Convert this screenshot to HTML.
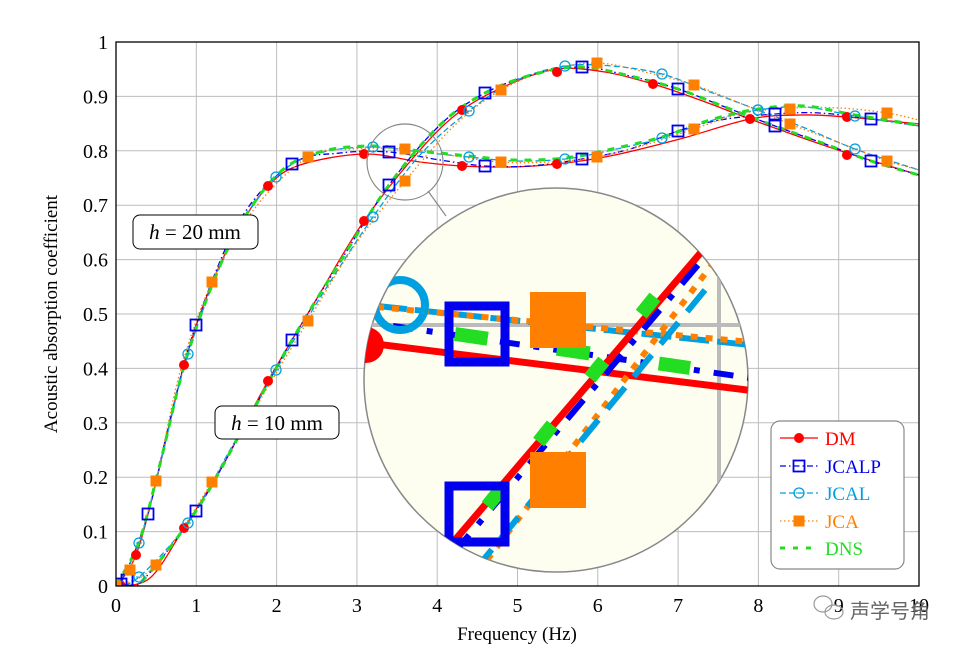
<!DOCTYPE html>
<html><head><meta charset="utf-8"><style>
html,body{margin:0;padding:0;background:#fff;}
svg{display:block;font-family:"Liberation Serif",serif;}
</style></head><body>
<svg id="s" width="975" height="650" viewBox="0 0 975 650" xmlns="http://www.w3.org/2000/svg">
<defs>
<clipPath id="pc"><rect x="116" y="42" width="803" height="544"/></clipPath>
<clipPath id="mc"><circle cx="556" cy="380" r="192"/></clipPath>
</defs>
<g id="grid" stroke="#bdbdbd" stroke-width="1"></g>
<g id="curves" clip-path="url(#pc)"></g>
<circle cx="405" cy="162" r="38" fill="none" stroke="#888" stroke-width="1.2"/>
<line x1="428" y1="191" x2="446" y2="216" stroke="#888" stroke-width="1.2"/>
<circle cx="556" cy="380" r="192" fill="#fdfdf0" stroke="#888" stroke-width="1.5"/>
<g clip-path="url(#mc)">
 <line x1="360" y1="325" x2="750" y2="325" stroke="#bbb" stroke-width="4"/>
 <line x1="719" y1="268" x2="719" y2="490" stroke="#bbb" stroke-width="4"/>
 <line x1="377" y1="306" x2="750" y2="345" stroke="#00a0e0" stroke-width="6" stroke-dasharray="30 8"/>
 <line x1="377" y1="307" x2="750" y2="342" stroke="#ff8000" stroke-width="6" stroke-dasharray="7 8"/>
 <line x1="393" y1="326" x2="750" y2="378" stroke="#0000ee" stroke-width="6" stroke-dasharray="20 14 6 14"/>
 <line x1="455" y1="334" x2="690" y2="368" stroke="#22dd22" stroke-width="14" stroke-dasharray="33 70"/>
 <line x1="360" y1="342" x2="755" y2="391" stroke="#ff0000" stroke-width="7"/>
 <circle cx="366" cy="345" r="18" fill="#ff0000"/>
 <line x1="710" y1="245" x2="470" y2="560" stroke="#ff8000" stroke-width="6" stroke-dasharray="7 9" transform="translate(14,4)"/>
 <line x1="705" y1="290" x2="475" y2="570" stroke="#00a0e0" stroke-width="6" stroke-dasharray="28 14"/>
 <line x1="703" y1="250" x2="455" y2="540" stroke="#ff0000" stroke-width="7"/>
 <line x1="695" y1="262" x2="455" y2="545" stroke="#0000ee" stroke-width="6" stroke-dasharray="25 14 6 14" transform="translate(3,3)"/>
 <line x1="655" y1="297" x2="460" y2="540" stroke="#22dd22" stroke-width="14" stroke-dasharray="22 60"/>
 <circle cx="400" cy="305" r="25" fill="none" stroke="#00a0e0" stroke-width="8"/>
 <rect x="449" y="306" width="56" height="56" fill="none" stroke="#0000ee" stroke-width="9"/>
 <rect x="449" y="486" width="56" height="56" fill="none" stroke="#0000ee" stroke-width="9"/>
 <rect x="530" y="292" width="56" height="56" fill="#ff8000"/>
 <rect x="530" y="452" width="56" height="56" fill="#ff8000"/>
</g>
<rect x="116" y="42" width="803" height="544" fill="none" stroke="#000" stroke-width="1.3"/>
<g id="ticks" font-size="20" fill="#000"></g>
<text x="517" y="640" font-size="19" text-anchor="middle">Frequency (Hz)</text>
<text transform="translate(57,314) rotate(-90)" font-size="19" text-anchor="middle">Acoustic absorption coefficient</text>
<rect x="133" y="215" width="125" height="34" rx="7" fill="#fff" stroke="#000" stroke-width="1"/>
<text x="195" y="239" font-size="21" text-anchor="middle"><tspan font-style="italic">h</tspan> = 20 mm</text>
<rect x="215" y="406" width="124" height="33" rx="7" fill="#fff" stroke="#000" stroke-width="1"/>
<text x="277" y="430" font-size="21" text-anchor="middle"><tspan font-style="italic">h</tspan> = 10 mm</text>
<g id="legend"></g>
<text x="850" y="618" font-size="20" fill="#666" font-family="Liberation Sans,'Noto Sans CJK SC',sans-serif">声学号角</text>
<g fill="none" stroke="#999" stroke-width="1.2"><ellipse cx="823" cy="604" rx="9" ry="8"/><ellipse cx="834" cy="612" rx="9" ry="7"/></g>
</svg>
<script>
const NS="http://www.w3.org/2000/svg";
function el(p,t,a,txt){const e=document.createElementNS(NS,t);for(const k in a)e.setAttribute(k,a[k]);if(txt!=null)e.textContent=txt;p.appendChild(e);return e;}
const X=f=>116+80.3*f, Y=a=>586-544*a;
const g=document.getElementById('grid'),tk=document.getElementById('ticks');
for(let i=1;i<10;i++)el(g,'line',{x1:X(i),y1:42,x2:X(i),y2:586});
for(let i=1;i<10;i++)el(g,'line',{x1:116,y1:Y(i/10),x2:919,y2:Y(i/10)});
for(let i=0;i<=10;i++){el(tk,'text',{x:X(i),y:612,'text-anchor':'middle'},String(i));}
for(let i=0;i<=10;i++){el(tk,'text',{x:108,y:Y(i/10)+7,'text-anchor':'end'},i==0?'0':i==10?'1':'0.'+i);}
function path(pts){let d='M'+pts[0][0]+','+pts[0][1];for(let i=0;i<pts.length-1;i++){const p0=pts[Math.max(0,i-1)],p1=pts[i],p2=pts[i+1],p3=pts[Math.min(pts.length-1,i+2)];
d+=` C${p1[0]+(p2[0]-p0[0])/6},${p1[1]+(p2[1]-p0[1])/6} ${p2[0]-(p3[0]-p1[0])/6},${p2[1]-(p3[1]-p1[1])/6} ${p2[0]},${p2[1]}`;}return d;}
const S={
DM:{c:'#ff0000',w:1.3,da:'',m:'dot'},
JCALP:{c:'#0000ee',w:1.3,da:'6 3 1.5 3',m:'sq'},
JCAL:{c:'#00a0e0',w:1.3,da:'6 3',m:'oc'},
JCA:{c:'#ff8000',w:1.3,da:'1.5 2.5',m:'fs'},
DNS:{c:'#22dd22',w:3,da:'7 7',m:''}};
const h20={
DM:[[116,586],[136,555],[156,482],[184,365],[212,283],[240,226],[268,186],[300,165],[364,154],[420,162],[462,166],[510,167],[557,164],[610,156],[680,139],[750,119],[800,115],[847,117],[919,124]],
JCALP:[[116,586],[124,577],[148,514],[170,420],[196,325],[240,220],[292,164],[340,153],[389,152],[440,160],[485,166],[530,166],[582,159],[630,149],[678,131],[720,120],[775,114],[820,113],[871,119],[919,126]],
JCAL:[[116,586],[139,543],[160,465],[188,354],[230,245],[276,177],[320,153],[373,147],[420,152],[469,157],[515,161],[565,159],[612,150],[662,138],[710,121],[758,110],[805,107],[855,116],[919,126]],
JCA:[[116,586],[130,570],[156,481],[180,372],[212,282],[255,208],[308,157],[350,149],[405,149],[455,156],[501,162],[550,162],[597,157],[645,145],[694,129],[740,114],[790,108],[840,108],[887,113],[919,120]]};
h20.DNS=h20.JCAL.map(p=>[p[0],p[1]-1]);
const h10={
DM:[[116,586],[150,578],[184,528],[220,470],[268,381],[316,300],[364,221],[420,150],[462,110],[510,84],[557,69],[605,72],[653,84],[700,100],[750,119],[800,137],[847,153],[919,175]],
JCALP:[[116,586],[140,583],[196,511],[245,425],[292,340],[340,262],[389,185],[440,125],[485,93],[535,74],[582,67],[630,76],[678,89],[725,107],[775,126],[825,144],[871,161],[919,175]],
JCAL:[[116,586],[139,577],[188,523],[230,450],[276,370],[325,290],[373,217],[420,155],[469,111],[515,81],[565,66],[612,66],[662,74],[710,92],[758,110],[805,128],[855,149],[919,170]],
JCA:[[116,586],[156,565],[212,482],[260,400],[308,321],[355,245],[405,181],[455,125],[501,90],[550,70],[597,63],[645,72],[694,85],[742,104],[790,124],[840,143],[887,161],[919,170]]};
h10.DNS=h10.JCALP.map(p=>[p[0],p[1]]);
const cg=document.getElementById('curves');
function marker(p,m,c,x,y){
 if(m=='dot')el(p,'circle',{cx:x,cy:y,r:5,fill:c});
 else if(m=='sq')el(p,'rect',{x:x-5.5,y:y-5.5,width:11,height:11,fill:'none',stroke:c,'stroke-width':1.8});
 else if(m=='oc'){el(p,'circle',{cx:x,cy:y,r:5,fill:'none',stroke:c,'stroke-width':1.3});el(p,'line',{x1:x-3,y1:y,x2:x+3,y2:y,stroke:c,'stroke-width':1});}
 else if(m=='fs')el(p,'rect',{x:x-5.5,y:y-5.5,width:11,height:11,fill:c});
}
for(const k of ['DM','JCALP','JCAL','JCA','DNS'])for(const D of [h20,h10]){
 const s=S[k];el(cg,'path',{d:path(D[k]),fill:'none',stroke:s.c,'stroke-width':s.w,'stroke-dasharray':s.da});}
const mpos={
DM:[[136,555],[184,365],[268,186],[364,154],[462,166],[557,164],[750,119],[847,117],[121,586],[184,528],[268,381],[364,221],[462,110],[557,72],[653,84],[847,155]],
JCALP:[[121,584],[148,514],[196,325],[292,164],[389,152],[485,166],[582,159],[678,131],[775,114],[871,119],[127,580],[196,511],[292,340],[389,185],[485,93],[582,67],[678,89],[775,126],[871,161]],
JCAL:[[139,543],[188,354],[276,177],[373,147],[469,157],[565,159],[662,138],[758,110],[855,116],[139,577],[188,523],[276,370],[373,217],[469,111],[565,66],[662,74],[758,110],[855,149]],
JCA:[[116,586],[130,570],[156,481],[212,282],[308,157],[405,149],[501,162],[597,157],[694,129],[790,109],[887,113],[156,565],[212,482],[308,321],[405,181],[501,90],[597,63],[694,85],[790,124],[887,161]]};
for(const k in mpos)for(const p of mpos[k])marker(cg,S[k].m,S[k].c,p[0],p[1]);
const lg=document.getElementById('legend');
el(lg,'rect',{x:771,y:421,width:133,height:148,rx:9,fill:'#fff',stroke:'#888','stroke-width':1.2});
const ys=[438,466,493,521,548];
['DM','JCALP','JCAL','JCA','DNS'].forEach((k,i)=>{const s=S[k],y=ys[i];
 el(lg,'line',{x1:780,y1:y,x2:818,y2:y,stroke:s.c,'stroke-width':s.w,'stroke-dasharray':k=='DNS'?'5 8':s.da});
 if(s.m)marker(lg,s.m,s.c,799,y);
 el(lg,'text',{x:825,y:y+7,'font-size':19,fill:s.c},k);});
</script>
</body></html>
